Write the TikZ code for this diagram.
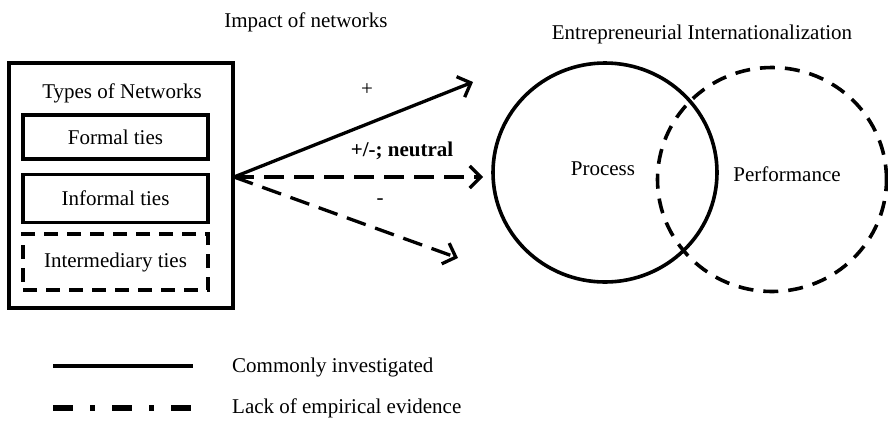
\documentclass[tikz,border=0pt]{standalone}
\usepackage{fontspec}
\setmainfont{Liberation Serif}
\usetikzlibrary{arrows.meta,shapes.geometric}
\begin{document}
\begin{tikzpicture}[x=1pt,y=-1pt,
  txt/.style={font=\fontsize{21}{25}\selectfont, inner sep=0pt},
  tiebox/.style={draw, line width=3.8pt, minimum width=185pt, minimum height=44pt, txt},
  link/.style={line width=3.3pt, -{Straight Barb[length=11pt,width=22pt,line width=3.3pt]}},
  gapdash/.style={dash pattern=on 20pt off 10pt},
]
\useasboundingbox (0,0) rectangle (888,421);

% network types
\node[draw, line width=3.3pt, minimum width=224pt, minimum height=245pt, inner sep=0pt] (nets) at (121,185.5) {};
\node[txt] (title) at (122,93) {Types of Networks};
\node[tiebox] (formal) at (115.5,137) {Formal ties};
\node[tiebox, minimum height=48pt] (informal) at (115.5,198.5) {Informal ties};
\node[tiebox, dash pattern=on 14pt off 9pt, minimum height=56pt] (inter) at (115.5,262) {Intermediary ties};

% internationalization
\node[draw, ellipse, line width=3.6pt, minimum width=224pt, minimum height=219pt, inner sep=0pt] (proc) at (605,172.5) {};
\node[draw, ellipse, line width=3.6pt, dash pattern=on 15pt off 10pt, minimum width=229pt, minimum height=224pt, inner sep=0pt] (perf) at (772,179.5) {};
\node[txt] (proclbl) at (603,169) {Process};
\node[txt] (perflbl) at (787,174) {Performance};
\node[txt] (eilbl) at (702,34) {Entrepreneurial Internationalization};
\node[txt] (implbl) at (306,22) {Impact of networks};

% impact arrows
\coordinate (src) at (234,177);
\coordinate (upend) at (473,82);
\coordinate (midend) at (483,177);
\coordinate (lowend) at (458,258);
\draw[link] (src) -- (upend);
\draw[link, gapdash] (src) -- (midend);
\draw[link, gapdash] (src) -- (lowend);
\node[txt] (plus) at (367,90) {+};
\node[txt, font=\fontsize{21}{25}\selectfont\bfseries] (mixed) at (402,151) {+/-; neutral};
\node[txt] (minus) at (380,202) {-};

% legend
\coordinate (l1a) at (53,366);
\coordinate (l1b) at (193,366);
\coordinate (l2a) at (53,408);
\coordinate (l2b) at (193,408);
\draw[line width=4pt] (l1a) -- (l1b);
\draw[line width=6pt, dash pattern=on 20pt off 17pt on 5pt off 17pt] (l2a) -- (l2b);
\node[txt, anchor=west] (leg1) at (232,367) {Commonly investigated};
\node[txt, anchor=west] (leg2) at (232,408) {Lack of empirical evidence};
\end{tikzpicture}
\end{document}
